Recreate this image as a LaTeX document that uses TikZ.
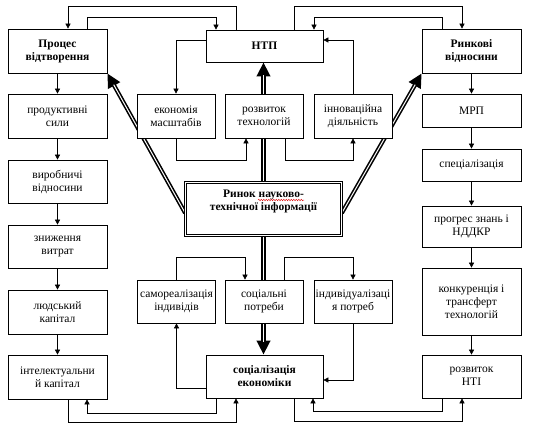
\documentclass[tikz,border=0pt]{standalone}
\usepackage{fontspec}
\setmainfont{Liberation Serif}
\usepackage{tikz}
\usetikzlibrary{
  arrows.meta,
  backgrounds,
  decorations.pathmorphing
}
\definecolor{lineclr}{RGB}{0,0,0}
\definecolor{spellred}{RGB}{225,30,30}
\tikzset{
  % Blocks
  box/.style     = {draw=lineclr, line width=0.7pt, fill=white, align=center,
                    inner sep=1pt, font=\fontsize{11.5}{13}\selectfont},
  wbox/.style    = {box, minimum width=99pt},
  sbox/.style    = {box, minimum width=78pt, minimum height=44pt},
  boldtxt/.style = {font=\bfseries\fontsize{11.5}{13}\selectfont},
  % Connectors
  link/.style    = {line width=0.6pt, draw=lineclr, -{Triangle[length=5pt, width=5pt]}},
  bigarrow/.style= {line width=4.2pt, draw=lineclr, -{Triangle[length=14pt, width=13pt]}},
  bigcut/.style  = {line width=1pt, draw=white, shorten >=13pt},
  % Spell mark
  spell/.style   = {spellred, line width=0.5pt, decorate,
                    decoration={snake, amplitude=0.7pt, segment length=2.5pt}},
}
\begin{document}
\begin{tikzpicture}[x=1pt, y=-1pt]
  \useasboundingbox (0,0) rectangle (535,433);
  % Left column
  \node[wbox, boldtxt, minimum height=44pt] (proc)  at (57.5,51)    {Процес\\відтворення};
  \node[wbox, minimum height=44pt]          (prod)  at (57.5,116)   {продуктивні\\сили};
  \node[wbox, minimum height=43pt]          (vyrob) at (57.5,181.5) {виробничі\\відносини};
  \node[wbox, minimum height=43pt]          (znyzh) at (57.5,246.5) {зниження\\витрат};
  \node[wbox, minimum height=44pt]          (ludk)  at (57.5,312)   {людський\\капітал};
  \node[wbox, minimum height=44pt]          (intel) at (57.5,377)   {інтелектуальни\\й капітал};
  % Right column
  \node[wbox, boldtxt, minimum height=44pt] (rynk)  at (471.5,51)    {Ринкові\\відносини};
  \node[wbox, minimum height=33pt]          (mrp)   at (471.5,110.5) {МРП};
  \node[wbox, minimum height=32pt]          (spec)  at (471.5,165)   {спеціалізація};
  \node[wbox, minimum height=41pt]          (progr) at (471.5,226.5) {прогрес знань і\\НДДКР};
  \node[wbox, minimum height=67pt]          (konk)  at (471.5,301.5) {конкуренція і\\трансферт\\технологій};
  \node[wbox, minimum height=43pt]          (rnti)  at (471.5,376.5) {розвиток\\НТІ};
  % Middle part
  \node[box, boldtxt, minimum width=117pt, minimum height=32pt] (ntp) at (264.5,46) {НТП};
  \node[sbox] (ekon)  at (176,116) {економія\\масштабів};
  \node[sbox] (rtech) at (264,116) {розвиток\\технологій};
  \node[sbox] (innov) at (353,116) {інноваційна\\діяльність};
  \node[box, double, double distance=1.6pt, minimum width=156pt,
        minimum height=53pt] (rynok) at (263.5,209) {};
  \node[boldtxt, align=center, inner sep=0pt] (rynoktxt) at (263.5,201.5)
    {Ринок науково-\\технічної інформації};
  \node[sbox, minimum height=43pt] (samo) at (176.5,301.5) {самореалізація\\індивідів};
  \node[sbox, minimum height=43pt] (sots) at (264,301.5)   {соціальні\\потреби};
  \node[sbox, minimum height=43pt] (indv) at (353,301.5)   {індивідуалізаці\\я потреб};
  \node[box, boldtxt, minimum width=117pt, minimum height=43pt] (sek) at (264.5,376.5) {соціалізація\\економіки};
  \draw[spell] (258,200) -- (304,200);
  % Thick arrows (behind the blocks)
  \begin{scope}[on background layer]
    \draw[bigarrow] (rynok.north) -- (rynok.north |- ntp.south);
    \draw[bigcut]   (rynok.north) -- (rynok.north |- ntp.south);
    \draw[bigarrow] (rynok.south) -- (rynok.south |- sek.north);
    \draw[bigcut]   (rynok.south) -- (rynok.south |- sek.north);
    \draw[bigarrow] (rynok.west |- 0,213) -- (proc.south east);
    \draw[bigcut]   (rynok.west |- 0,213) -- (proc.south east);
    \draw[bigarrow] (rynok.east |- 0,213) -- (rynk.south west);
    \draw[bigcut]   (rynok.east |- 0,213) -- (rynk.south west);
  \end{scope}
  % Columns
  \foreach \a/\b in {proc/prod, prod/vyrob, vyrob/znyzh, znyzh/ludk, ludk/intel,
                     rynk/mrp, mrp/spec, spec/progr, progr/konk, konk/rnti}
    \draw[link] (\a.south) -- (\b.north);
  % Top loops
  \draw[link] (236,0 |- ntp.north) -- (236,6) -| (68,0 |- proc.north);
  \draw[link] (87,0 |- proc.north) -- (87,17) -| (216,0 |- ntp.north);
  \draw[link] (294,0 |- ntp.north) -- (294,6) -| (462,0 |- rynk.north);
  \draw[link] (442,0 |- rynk.north) -- (442,17) -| (314,0 |- ntp.north);
  \draw[link] (ntp.west |- 0,40) -| (ekon.north);
  \draw[link] (ekon.south) -- (176,160) -| (246,0 |- rtech.south);
  \draw[link] (285,0 |- rtech.south) -- (285,160) -| (innov.south);
  \draw[link] (innov.north) |- (ntp.east |- 0,40);
  % Bottom loops
  \draw[link] (sek.west |- 0,388) -| (samo.south);
  \draw[link] (samo.north) -- (176.5,257) -| (245,0 |- sots.north);
  \draw[link] (284,0 |- sots.north) -- (284,257) -| (indv.north);
  \draw[link] (indv.south) |- (sek.east |- 0,380);
  \draw[link] (68,0 |- intel.south) -- (68,422) -| (236,0 |- sek.south);
  \draw[link] (216,0 |- sek.south) -- (216,413) -| (87,0 |- intel.south);
  \draw[link] (294,0 |- sek.south) -- (294,421) -| (462,0 |- rnti.south);
  \draw[link] (442,0 |- rnti.south) -- (442,411) -| (313,0 |- sek.south);
\end{tikzpicture}
\end{document}
